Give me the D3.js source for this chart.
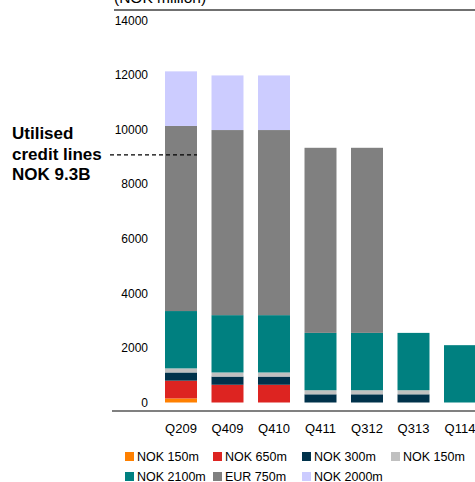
<!DOCTYPE html>
<html><head><meta charset="utf-8">
<script src="https://cdn.jsdelivr.net/npm/d3@7"></script>
<style>body{margin:0;background:#fff}svg{display:block;font-family:Arial,"Liberation Sans",sans-serif}</style>
</head><body>
<script>
const categories = ["Q209","Q409","Q410","Q411","Q312","Q313","Q114"];
const seriesNames = ["NOK 150m","NOK 650m","NOK 300m","NOK 150m ","NOK 2100m","EUR 750m","NOK 2000m"];
const seriesColors = ["#FF8000","#DD2421","#00324B","#C0C0C0","#008080","#808080","#CCCCFF"];
const nok150a = [150,0,0,0,0,0,0];
const nok650 = [650,650,650,0,0,0,0];
const nok300 = [300,300,300,300,300,300,0];
const nok150b = [150,150,150,150,150,150,0];
const nok2100 = [2100,2100,2100,2100,2100,2100,2100];
const eur750 = [6780,6780,6780,6780,6780,0,0];
const nok2000 = [2000,2000,2000,0,0,0,0];
const seriesValues = [nok150a,nok650,nok300,nok150b,nok2100,eur750,nok2000];
const yTicks = [0,2000,4000,6000,8000,10000,12000,14000];
const utilised = 9070;

const W=475,H=482;
const svg=d3.select("body").append("svg").attr("width",W).attr("height",H);
const y=d3.scaleLinear().domain([0,14000]).range([402.5,20.3]);
const x=d3.scaleBand().domain(categories).range([157.75,483.25]).paddingInner(0.312).paddingOuter(0.156);

const rows=categories.map((c,i)=>{const o={cat:c};seriesValues.forEach((s,j)=>o["s"+j]=s[i]);return o;});
const stack=d3.stack().keys(seriesValues.map((s,j)=>"s"+j))(rows);

// top line
svg.append("line").attr("x1",114).attr("x2",W).attr("y1",10).attr("y2",10).attr("stroke","#404040").attr("stroke-width",1.5);
svg.append("text").attr("x",114).attr("y",3).attr("font-size",15.5).attr("fill","#000").text("(NOK million)");

// y ticks
svg.append("g").selectAll("text").data(yTicks).join("text")
 .attr("x",148).attr("y",d=>y(d)).attr("dy","0.35em").attr("text-anchor","end").attr("font-size",12).text(d=>d);

// bars
svg.append("g").selectAll("g").data(stack).join("g").attr("fill",(d,i)=>seriesColors[i])
 .selectAll("rect").data(d=>d.filter(p=>p[1]-p[0]>0)).join("rect")
 .attr("x",d=>x(d.data.cat)).attr("width",x.bandwidth())
 .attr("y",d=>y(d[1])).attr("height",d=>y(d[0])-y(d[1]));

// bottom axis line
svg.append("line").attr("x1",112).attr("x2",W).attr("y1",411).attr("y2",411).attr("stroke","#808080").attr("stroke-width",2);
svg.append("g").selectAll("text").data(categories).join("text")
 .attr("x",d=>x(d)+x.bandwidth()/2).attr("y",433).attr("text-anchor","middle").attr("font-size",13).text(d=>d);

// annotation
svg.append("line").attr("x1",110).attr("x2",x(categories[0])+x.bandwidth()).attr("y1",y(utilised)).attr("y2",y(utilised))
 .attr("stroke","#000").attr("stroke-width",1.2).attr("stroke-dasharray","4,3");
const ann=svg.append("text").attr("font-size",17).attr("font-weight","bold").attr("fill","#000");
["Utilised","credit lines","NOK 9.3B"].forEach((t,i)=>ann.append("tspan").attr("x",12).attr("y",139+i*20.5).text(t));

// legend
const legPos=[[125,452],[213,452],[302,452],[391,452],[125,472],[213,472],[302,472]];
const lg=svg.append("g").selectAll("g").data(seriesNames).join("g").attr("transform",(d,i)=>`translate(${legPos[i][0]},${legPos[i][1]})`);
lg.append("rect").attr("width",9).attr("height",9).attr("fill",(d,i)=>seriesColors[i]);
lg.append("text").attr("x",12).attr("y",4.5).attr("dy","0.36em").attr("font-size",12.5).text(d=>d.trim());
</script>
</body></html>
